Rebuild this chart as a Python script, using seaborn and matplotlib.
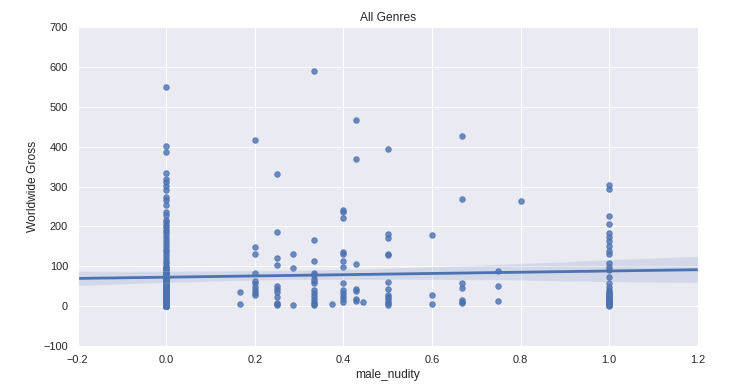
import numpy as np
import pandas as pd
import matplotlib
matplotlib.use("Agg")
import matplotlib.pyplot as plt
import seaborn as sns

# share of male nudity scenes per film, and worldwide gross (millions)
gross_at_0 = [
    550, 401, 386,
    333, 320, 311, 301, 291, 274, 266, 253, 236, 228, 216, 210, 203,
    199, 192, 185, 178, 170, 163, 156, 149, 142, 135, 128, 121, 114, 107, 101,
    98, 95, 93, 90, 88, 86, 84, 82, 80, 78,
    76, 74, 72, 70, 68, 66, 65, 63, 61, 60,
    58, 57, 55, 54, 52, 51, 50, 48, 47, 46,
    45, 44, 42, 41, 40, 39, 38, 37, 36, 35,
    34, 33, 32, 31, 30, 29, 28, 27, 27, 26,
    25, 24, 23, 23, 22, 21, 20, 20, 19, 18,
    18, 17, 16, 16, 15, 14, 14, 13, 12, 12,
    11, 11, 10, 10, 9, 9, 8, 8, 7, 7,
    6, 6, 6, 5, 5, 5, 4, 4, 4, 3,
    3, 3, 2, 2, 2, 2, 1, 1, 1, 1,
    0.9, 0.8, 0.7, 0.6, 0.5, 0.5, 0.4, 0.3, 0.2, 0.1,
    1, 2, 3, 3, 4, 5, 5, 6, 6, 7, 7, 8, 6, 7,
]
gross_at_1_6 = [35, 5]
gross_at_1_5 = [417, 148, 132, 83, 64, 57, 48, 40, 33, 28]
gross_at_1_4 = [332, 185, 120, 104, 51, 44, 36, 23, 8, 5, 2]
gross_at_2_7 = [132, 95, 2]
gross_at_1_3 = [589, 165, 114, 84, 78, 69, 63, 57, 40, 32, 25, 19, 11, 5, 2]
gross_at_3_8 = [5]
gross_at_2_5 = [241, 237, 220, 135, 130, 114, 98, 57, 41, 32, 25, 18, 11]
gross_at_3_7 = [466, 370, 106, 44, 38, 19, 13]
gross_at_4_9 = [10]
gross_at_1_2 = [393, 182, 171, 132, 127, 60, 42, 28, 23, 17, 11, 8, 3]
gross_at_3_5 = [178, 28, 6]
gross_at_2_3 = [427, 269, 57, 46, 15, 11, 7]
gross_at_3_4 = [88, 50, 13]
gross_at_4_5 = [263]
gross_at_1 = [
    303, 295, 226, 205, 184, 174, 163, 150, 138, 130, 109, 99, 90, 72,
    57, 48, 40, 36, 33, 30, 28, 25, 22, 20, 18, 15, 12, 10, 7, 5, 3, 1,
    2, 4, 6, 9, 11, 14, 17, 17,
]

groups = [
    (0.0, gross_at_0), (1 / 6, gross_at_1_6), (0.2, gross_at_1_5),
    (0.25, gross_at_1_4), (2 / 7, gross_at_2_7), (1 / 3, gross_at_1_3),
    (0.375, gross_at_3_8), (0.4, gross_at_2_5), (3 / 7, gross_at_3_7),
    (4 / 9, gross_at_4_9), (0.5, gross_at_1_2), (0.6, gross_at_3_5),
    (2 / 3, gross_at_2_3), (0.75, gross_at_3_4), (0.8, gross_at_4_5),
    (1.0, gross_at_1),
]

rows = [(x, g) for x, vals in groups for g in vals]
df = pd.DataFrame(rows, columns=["male_nudity", "Worldwide Gross"])

sns.set_theme(style="darkgrid")
plt.rcParams["font.family"] = ["Liberation Sans", "DejaVu Sans"]

fig, ax = plt.subplots(figsize=(740 / 72, 387 / 72), dpi=72)
fig.subplots_adjust(left=0.105, right=0.943, top=0.930, bottom=0.106)

# limits first so the untruncated fit spans the whole axis
ax.set_xlim(-0.2, 1.2)
ax.set_ylim(-100, 700)
sns.regplot(data=df, x="male_nudity", y="Worldwide Gross", ax=ax,
            truncate=False, seed=0, scatter_kws={"s": 30},
            line_kws={"lw": 2.8})
ax.set_xlim(-0.2, 1.2)
ax.set_ylim(-100, 700)
ax.set_xticks(np.arange(-0.2, 1.21, 0.2))
ax.set_yticks(np.arange(-100, 701, 100))
ax.set_title("All Genres")

fig.savefig("out.png", dpi=72)
